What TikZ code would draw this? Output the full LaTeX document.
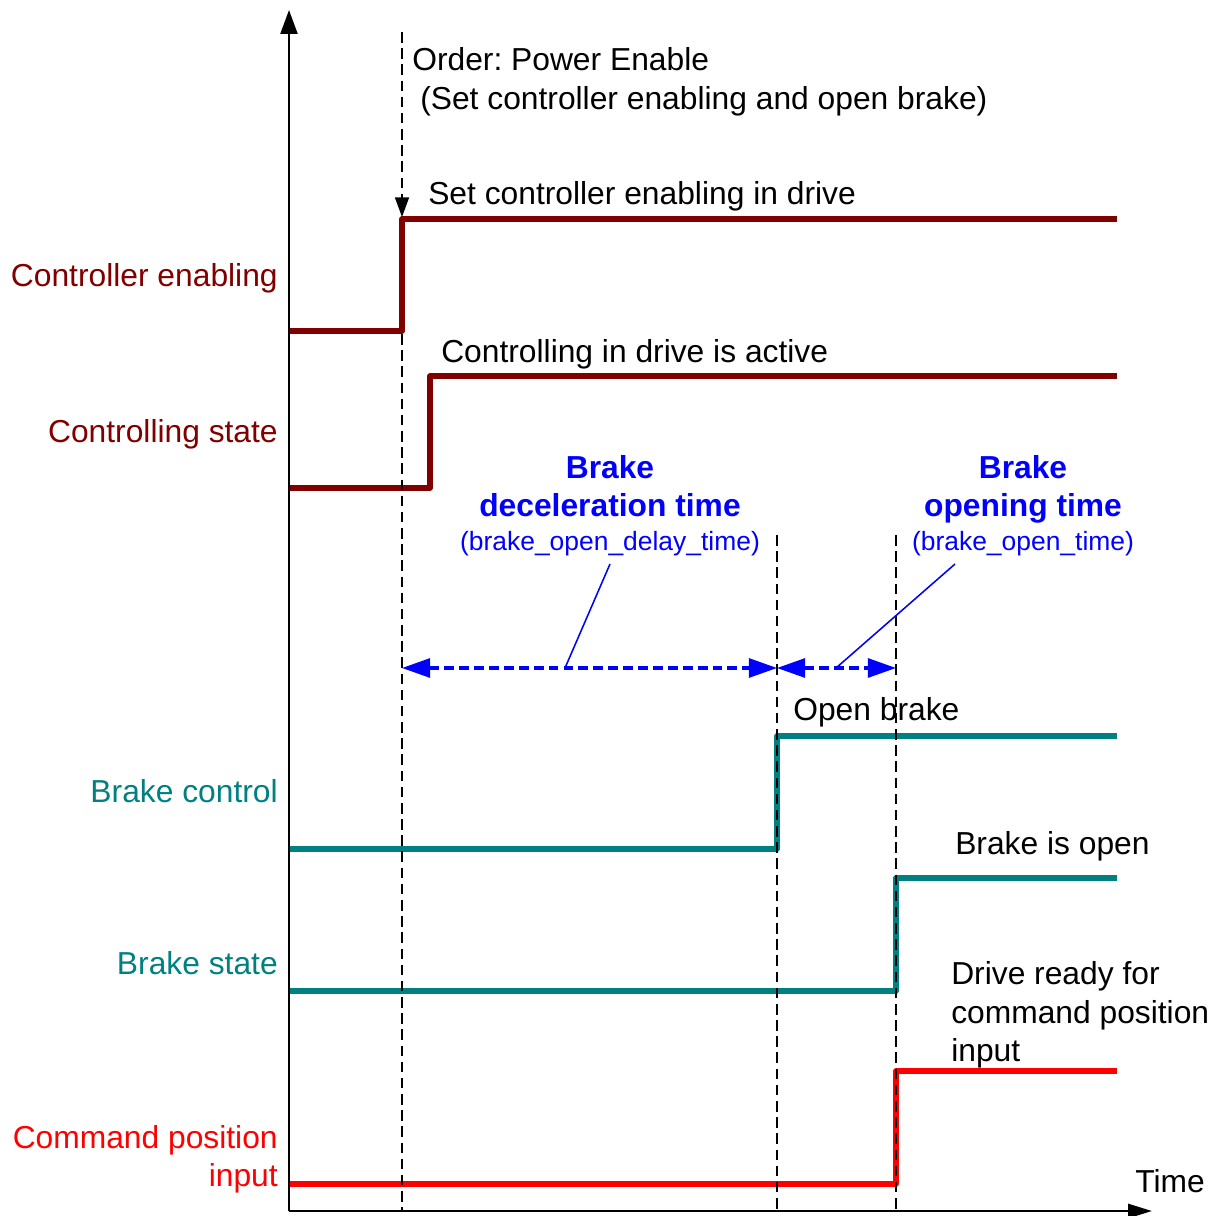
\documentclass[tikz,border=0pt]{standalone}
\usepackage{fontspec}
\setmainfont{Liberation Sans}
\usetikzlibrary{arrows.meta}
\definecolor{enablered}{RGB}{128,0,0}
\definecolor{braketeal}{RGB}{0,128,128}
\newcommand{\smalltxt}{\fontsize{18.8}{22.7}\selectfont}
\frenchspacing

\begin{document}
\begin{tikzpicture}[x=0.025cm, y=-0.025cm,
    font=\fontsize{22.6}{27.3}\selectfont,
    axis/.style={line width=1.8pt},
    marker/.style={line width=1.1pt, dash pattern=on 7.5pt off 4pt},
    signal/.style={line width=3.9pt, line join=round},
    span/.style={blue, line width=2.2pt, dash pattern=on 7pt off 3.6pt,
      {Triangle[length=20pt, width=13.5pt]}-{Triangle[length=20pt, width=13.5pt]}},
    leader/.style={blue, line width=1.1pt},
    label/.style={inner sep=0pt}]
  \useasboundingbox (0,0) rectangle (1221,1215);
  % time marks
  \coordinate (o) at (289,1211);
  \coordinate (ytip) at (289,10);
  \coordinate (xtip) at (1152,1211);
  \coordinate (ta) at (402,668);
  \coordinate (tb) at (777,668);
  \coordinate (tc) at (896,668);
  % signals
  \draw[signal, enablered] (289,331) -- (402,331) -- (402,219) -- (1117,219);
  \draw[signal, enablered] (289,488) -- (430,488) -- (430,376) -- (1117,376);
  \draw[signal, braketeal] (289,849) -- (777,849) -- (777,736) -- (1117,736);
  \draw[signal, braketeal] (289,991) -- (896,991) -- (896,878) -- (1117,878);
  \draw[signal, red] (289,1184) -- (896,1184) -- (896,1071) -- (1117,1071);
  % dashed marks
  \draw[marker, -{Triangle[length=14pt, width=10pt]}] (402,32) -- (402,217);
  \draw[marker] (402,334) -- (402,1212);
  \draw[marker] (777,535) -- (777,1212);
  \draw[marker] (896,535) -- (896,1212);
  % axes
  \draw[axis, -{Triangle[length=17pt, width=12pt]}] (o) -- (ytip);
  \draw[axis, -{Triangle[length=17pt, width=10pt]}] (o) -- (xtip);
  \node[label, anchor=base west] (time) at (1135,1192) {Time};
  % signal names
  \node[label, anchor=base east, enablered] (enname) at (278,286) {Controller enabling};
  \node[label, anchor=base east, enablered] (ctname) at (278,442) {Controlling state};
  \node[label, anchor=base east, braketeal] (bcname) at (278,802) {Brake control};
  \node[label, anchor=base east, braketeal] (bsname) at (278,974) {Brake state};
  \node[label, anchor=base east, red] (cpname) at (278,1148) {Command position};
  \node[label, anchor=base east, red] (cpname2) at (278,1186) {input};
  % events
  \node[label, anchor=base west] (order) at (412,71) {Order: Power Enable};
  \node[label, anchor=base west] (orderinfo) at (420,110) {(Set controller enabling and open brake)};
  \node[label, anchor=base west] (enev) at (428,204) {Set controller enabling in drive};
  \node[label, anchor=base west] (ctev) at (441,362) {Controlling in drive is active};
  \node[label, anchor=base west] (bcev) at (793,720) {Open brake};
  \node[label, anchor=base west] (bsev) at (955,854) {Brake is open};
  \node[label, anchor=base west] (cpev) at (951,984) {Drive ready for};
  \node[label, anchor=base west] (cpev2) at (951,1023) {command position};
  \node[label, anchor=base west] (cpev3) at (951,1061) {input};
  % durations
  \node[label, anchor=base, blue, font=\fontsize{22.6}{27.3}\selectfont\bfseries] (dectitle) at (610,478) {Brake};
  \node[label, anchor=base, blue, font=\fontsize{22.6}{27.3}\selectfont\bfseries] (dectitle2) at (610,516) {deceleration time};
  \node[label, anchor=base, blue, font=\smalltxt] (decvar) at (610,550) {(brake\_open\_delay\_time)};
  \node[label, anchor=base, blue, font=\fontsize{22.6}{27.3}\selectfont\bfseries] (optitle) at (1023,478) {Brake};
  \node[label, anchor=base, blue, font=\fontsize{22.6}{27.3}\selectfont\bfseries] (optitle2) at (1023,516) {opening time};
  \node[label, anchor=base, blue, font=\smalltxt] (opvar) at (1023,550) {(brake\_open\_time)};
  \draw[span] (ta) -- (tb);
  \draw[span] (tb) -- (tc);
  \coordinate (dechead) at (610,564);
  \coordinate (ophead) at (955,564);
  \coordinate (decfoot) at (565,668);
  \coordinate (opfoot) at (836,668);
  \draw[leader] (dechead) -- (decfoot);
  \draw[leader] (ophead) -- (opfoot);
\end{tikzpicture}
\end{document}
